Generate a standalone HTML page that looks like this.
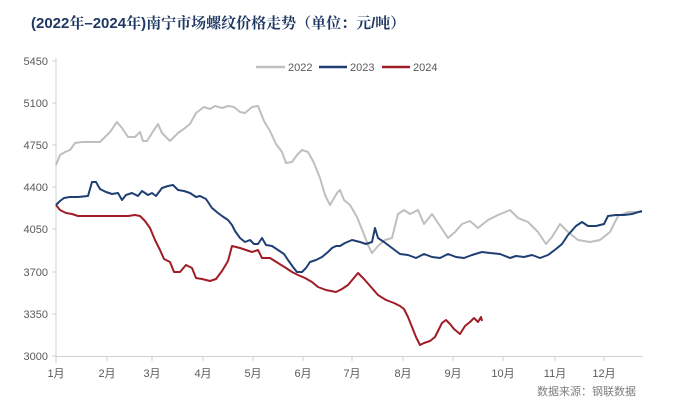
<!DOCTYPE html>
<html><head><meta charset="utf-8"><style>
body{margin:0;background:#fff;}
</style></head><body>
<svg width="673" height="414" xmlns="http://www.w3.org/2000/svg" font-family="Liberation Sans, Noto Sans CJK SC, sans-serif">
<rect width="673" height="414" fill="#fff"/>
<text x="31" y="28" font-size="15" font-weight="bold" fill="#1f3864" font-family="Liberation Sans, Noto Serif CJK SC, serif">(2022年–2024年)南宁市场螺纹价格走势（单位：元/吨）</text>
<g font-size="11" fill="#595959" text-anchor="end">
<text x="48" y="65">5450</text><text x="48" y="107">5100</text><text x="48" y="149">4750</text><text x="48" y="191">4400</text><text x="48" y="233">4050</text><text x="48" y="276">3700</text><text x="48" y="318">3350</text><text x="48" y="360">3000</text>
</g>
<g stroke="#d0d0d0" stroke-width="1">
<line x1="56" y1="58" x2="56" y2="363"/>
<line x1="56" y1="356.5" x2="643" y2="356.5"/>
<line x1="52" y1="61" x2="56" y2="61"/><line x1="52" y1="103" x2="56" y2="103"/><line x1="52" y1="145" x2="56" y2="145"/><line x1="52" y1="187" x2="56" y2="187"/><line x1="52" y1="229" x2="56" y2="229"/><line x1="52" y1="272" x2="56" y2="272"/><line x1="52" y1="314" x2="56" y2="314"/><line x1="52" y1="356" x2="56" y2="356"/>
<line x1="107" y1="356" x2="107" y2="361"/><line x1="152" y1="356" x2="152" y2="361"/><line x1="203" y1="356" x2="203" y2="361"/><line x1="253" y1="356" x2="253" y2="361"/><line x1="303" y1="356" x2="303" y2="361"/><line x1="352" y1="356" x2="352" y2="361"/><line x1="403" y1="356" x2="403" y2="361"/><line x1="453" y1="356" x2="453" y2="361"/><line x1="503" y1="356" x2="503" y2="361"/><line x1="555" y1="356" x2="555" y2="361"/><line x1="604" y1="356" x2="604" y2="361"/>
</g>
<g font-size="11" fill="#595959" text-anchor="middle">
<text x="56" y="377">1月</text><text x="107" y="377">2月</text><text x="152" y="377">3月</text><text x="203" y="377">4月</text><text x="253" y="377">5月</text><text x="303" y="377">6月</text><text x="352" y="377">7月</text><text x="403" y="377">8月</text><text x="453" y="377">9月</text><text x="503" y="377">10月</text><text x="555" y="377">11月</text><text x="604" y="377">12月</text>
</g>
<text x="636" y="395" font-size="11" fill="#7f7f7f" text-anchor="end">数据来源：钢联数据</text>
<g font-size="11" fill="#595959">
<line x1="256" y1="67" x2="285" y2="67" stroke="#bfbfbf" stroke-width="2.5"/><text x="288" y="71">2022</text>
<line x1="319" y1="67" x2="347" y2="67" stroke="#1f3f73" stroke-width="2.5"/><text x="350" y="71">2023</text>
<line x1="382" y1="67" x2="410" y2="67" stroke="#a01c26" stroke-width="2.5"/><text x="413" y="71">2024</text>
</g>
<g fill="none" stroke-width="2" stroke-linejoin="round">
<polyline stroke="#bfbfbf" points="56,165 60,155 65,152 70,150 75,143 82,142 100,142 110,132 117,122 122,128 128,137 135,137 140,132 143,141 147,141 152,133 158,124 162,133 170,141 178,133 185,128 190,124 196,113 204,107 210,109 215,106 222,108 228,106 234,107 240,112 245,113 252,107 258,106 264,121 270,131 276,144 282,152 286,163 292,162 297,155 302,150 308,152 314,163 320,178 325,195 330,205 337,193 340,190 344,200 350,205 357,217 363,232 368,245 372,253 378,246 385,240 392,238 398,214 404,210 410,214 418,210 424,224 432,214 440,226 448,238 455,232 462,224 470,221 478,228 488,220 498,215 510,210 518,218 528,222 538,232 546,244 552,237 560,224 568,232 578,240 590,242 600,240 610,232 618,216 628,212 642,212"/>
<polyline stroke="#a01c26" points="56,205 60,210 66,213 72,214 78,216 90,216 110,216 128,216 135,215 140,216 145,221 150,228 155,240 160,250 164,259 170,262 174,272 180,272 186,265 192,268 196,278 202,279 210,281 216,279 222,271 228,261 232,246 240,248 246,250 252,252 258,250 262,258 270,258 278,263 286,268 292,272 298,275 305,278 312,282 318,287 326,290 336,292 342,289 348,285 353,279 358,273 364,279 371,287 378,295 386,300 394,303 400,306 404,309 408,317 412,327 416,337 420,345 424,343 430,341 435,337 438,331 442,323 446,320 450,324 454,329 460,334 465,326 470,322 474,318 478,322 481,317 482,321"/>
<polyline stroke="#1f3f73" points="56,205 60,201 64,198 70,197 78,197 88,196 92,182 96,182 100,189 106,192 112,194 118,193 122,200 126,195 132,193 138,196 142,191 148,195 152,193 156,196 162,188 168,186 173,185 178,190 184,191 190,193 196,197 200,196 206,199 212,208 218,213 222,216 228,220 232,225 235,231 240,238 245,242 250,240 254,244 258,244 262,238 266,245 272,246 278,250 284,254 288,260 293,267 297,272 302,272 306,268 310,262 316,260 322,257 328,252 332,248 336,246 340,246 345,243 352,240 360,242 366,244 372,242 375,228 378,238 384,242 392,248 400,254 408,255 416,258 424,254 432,257 440,258 448,254 456,257 464,258 472,255 482,252 490,253 500,254 510,258 516,256 524,257 532,255 540,258 548,255 556,249 562,244 568,235 576,226 582,222 588,226 596,226 604,224 608,216 616,215 624,215 632,214 642,211"/>
</g>
</svg>
</body></html>
